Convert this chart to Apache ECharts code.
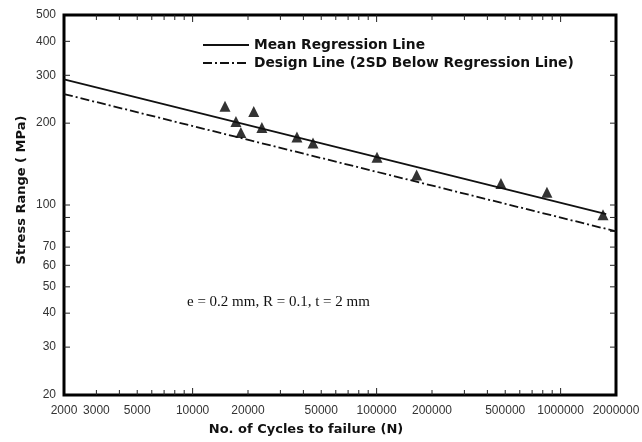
<!DOCTYPE html>
<html>
<head>
<meta charset="utf-8">
<script src="https://cdn.jsdelivr.net/npm/echarts@6/dist/echarts.min.js"></script>
<style>
  html, body { margin: 0; padding: 0; background: #fff; }
  #chart { width: 642px; height: 442px; }
</style>
</head>
<body>
<div id="chart"></div>
<script>
// test results (cycles, stress range MPa)
const testCycles = [15000, 17200, 18300, 21500, 23800, 36900, 45100, 100500, 165000, 474000, 843000, 1700000];
const testStress = [231, 203, 185, 221, 193, 178, 169, 150, 129, 120, 111.5, 92];

// regression lines: end points in log-log space
const meanCycles = [2000, 1770000];
const meanStress = [290, 92.5];
const designCycles = [2000, 2000000];
const designStress = [256, 80];

// tick labels
const xLabels = [2000, 3000, 5000, 10000, 20000, 50000, 100000, 200000, 500000, 1000000, 2000000];
const yLabels = [20, 30, 40, 50, 60, 70, 100, 200, 300, 400, 500];

// tick marks
const xTicks = [3000, 4000, 5000, 6000, 7000, 8000, 9000, 10000,
  20000, 30000, 40000, 50000, 60000, 70000, 80000, 90000, 100000,
  200000, 300000, 400000, 500000, 600000, 700000, 800000, 900000, 1000000];
const yTicks = [30, 40, 50, 60, 70, 80, 90, 100, 200, 300, 400];

const chart = echarts.init(document.getElementById('chart'));

const tickColor = '#222';
const labelFont = '"Liberation Sans", Arial, sans-serif';
const titleFont = '"DejaVu Sans", Verdana, sans-serif';

const option = {
  animation: false,
  backgroundColor: '#fff',
  grid: {
    left: 64,
    right: 26,
    top: 15,
    bottom: 47,
    show: true,
    borderColor: '#000',
    borderWidth: 3,
  },
  legend: {
    data: ['Mean Regression Line', 'Design Line (2SD Below Regression Line)'],
    orient: 'vertical',
    left: 197,
    top: 33,
    itemWidth: 46,
    itemHeight: 10,
    itemGap: 4,
    itemStyle: { opacity: 0 },
    textStyle: {
      fontFamily: titleFont,
      fontWeight: 'bold',
      fontSize: 13.8,
      color: '#111',
    },
  },
  xAxis: {
    type: 'log',
    logBase: 10,
    min: 2000,
    max: 2000000,
    axisLine: { show: false },
    axisTick: { show: false },
    axisLabel: { show: false },
    splitLine: { show: false },
  },
  yAxis: {
    type: 'log',
    logBase: 10,
    min: 20,
    max: 500,
    axisLine: { show: false },
    axisTick: { show: false },
    axisLabel: { show: false },
    splitLine: { show: false },
  },
  graphic: [
    {
      type: 'text',
      left: 187,
      top: 295,
      style: {
        text: 'e = 0.2 mm, R = 0.1, t = 2 mm',
        font: '15px "Liberation Serif", "Times New Roman", serif',
        fill: '#111',
      },
    },
    {
      type: 'text',
      x: 306,
      y: 430,
      style: {
        text: 'No. of Cycles to failure (N)',
        font: 'bold 13px ' + titleFont,
        fill: '#111',
        align: 'center',
        verticalAlign: 'middle',
      },
    },
    {
      type: 'text',
      x: 22,
      y: 190,
      rotation: Math.PI / 2,
      style: {
        text: 'Stress Range ( MPa)',
        font: 'bold 13px ' + titleFont,
        fill: '#111',
        align: 'center',
        verticalAlign: 'middle',
      },
    },
  ],
  series: [
    {
      name: 'Mean Regression Line',
      type: 'line',
      symbol: 'none',
      data: meanCycles.map((c, i) => [c, meanStress[i]]),
      lineStyle: { color: '#111', width: 1.8, type: 'solid' },
      itemStyle: { color: '#111' },
    },
    {
      name: 'Design Line (2SD Below Regression Line)',
      type: 'line',
      symbol: 'none',
      data: designCycles.map((c, i) => [c, designStress[i]]),
      lineStyle: { color: '#111', width: 1.8, type: [9, 3, 2, 3] },
      itemStyle: { color: '#111' },
    },
    {
      name: 'Test Data',
      type: 'scatter',
      symbol: 'triangle',
      symbolSize: 11,
      data: testCycles.map((c, i) => [c, testStress[i]]),
      itemStyle: { color: '#000' },
    },
    {
      // x ticks, bottom and top, pointing inward
      type: 'custom',
      silent: true,
      data: xTicks.map(v => [v, 20]),
      renderItem: (params, api) => {
        const p = api.coord([api.value(0), api.value(1)]);
        const cs = params.coordSys;
        const decade = String(api.value(0))[0] === '1';
        const len = decade ? 7 : 5;
        return {
          type: 'group',
          children: [
            { type: 'line', shape: { x1: p[0], y1: cs.y + cs.height, x2: p[0], y2: cs.y + cs.height - len }, style: { stroke: tickColor, lineWidth: 1 } },
            { type: 'line', shape: { x1: p[0], y1: cs.y, x2: p[0], y2: cs.y + len }, style: { stroke: tickColor, lineWidth: 1 } },
          ],
        };
      },
    },
    {
      // y ticks, left and right
      type: 'custom',
      silent: true,
      data: yTicks.map(v => [2000, v]),
      renderItem: (params, api) => {
        const p = api.coord([api.value(0), api.value(1)]);
        const cs = params.coordSys;
        return {
          type: 'group',
          children: [
            { type: 'line', shape: { x1: cs.x, y1: p[1], x2: cs.x + 6, y2: p[1] }, style: { stroke: tickColor, lineWidth: 1 } },
            { type: 'line', shape: { x1: cs.x + cs.width, y1: p[1], x2: cs.x + cs.width - 6, y2: p[1] }, style: { stroke: tickColor, lineWidth: 1 } },
          ],
        };
      },
    },
    {
      // x tick labels
      type: 'custom',
      silent: true,
      data: xLabels.map(v => [v, 20]),
      renderItem: (params, api) => {
        const p = api.coord([api.value(0), api.value(1)]);
        return {
          type: 'text',
          x: p[0],
          y: p[1] + 10,
          style: {
            text: String(api.value(0)),
            font: '12px ' + labelFont,
            fill: '#333',
            align: 'center',
            verticalAlign: 'top',
          },
        };
      },
    },
    {
      // y tick labels
      type: 'custom',
      silent: true,
      data: yLabels.map(v => [2000, v]),
      renderItem: (params, api) => {
        const p = api.coord([api.value(0), api.value(1)]);
        return {
          type: 'text',
          x: p[0] - 8,
          y: p[1],
          style: {
            text: String(api.value(1)),
            font: '12px ' + labelFont,
            fill: '#333',
            align: 'right',
            verticalAlign: 'middle',
          },
        };
      },
    },
  ],
};

chart.setOption(option);
</script>
</body>
</html>
